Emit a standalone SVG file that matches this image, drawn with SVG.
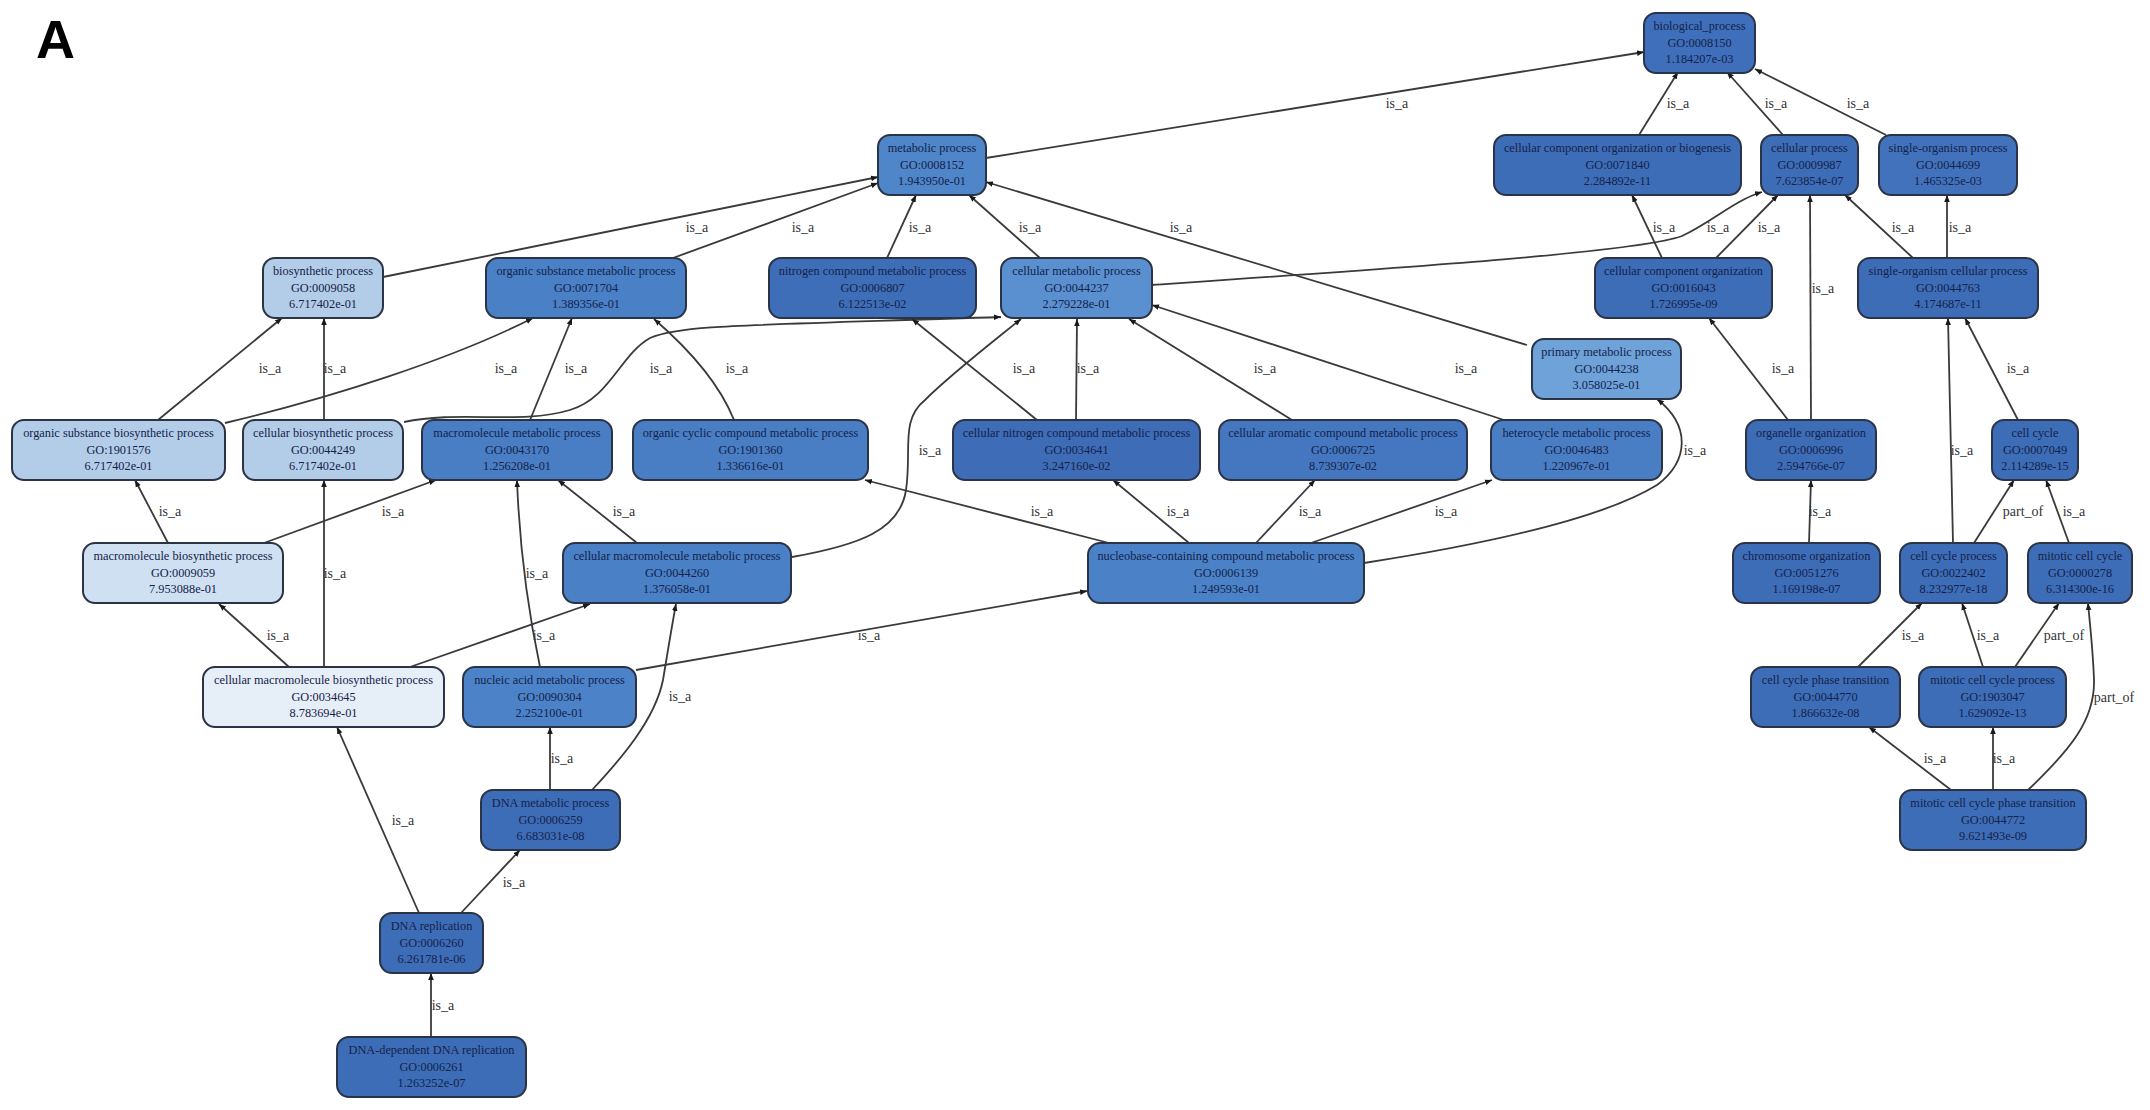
<svg xmlns="http://www.w3.org/2000/svg" width="2150" height="1110" viewBox="0 0 2150 1110">
<defs>
<marker id="arr" viewBox="0 0 10 10" refX="10" refY="5" markerWidth="7" markerHeight="7" markerUnits="userSpaceOnUse" orient="auto"><path d="M0,1 L10,5 L0,9 z" fill="#1a1a1a"/></marker>
<style>
.n rect{stroke:#2b3346;stroke-width:2}
.n text{font-family:"Liberation Serif","Times New Roman",serif;font-size:12.3px;fill:#14224a;text-anchor:middle}
.d{fill:#3e6db7}
.e path{fill:none;stroke:#3a3a3a;stroke-width:1.8;marker-end:url(#arr)}
.e text{font-family:"Liberation Serif","Times New Roman",serif;font-size:14px;fill:#333;text-anchor:middle}
.title{font-family:"Liberation Sans",Arial,sans-serif;font-weight:bold;font-size:54px;fill:#000}
</style>
</defs>
<rect width="2150" height="1110" fill="#fff"/>
<text class="title" x="36" y="58">A</text>

<g id="connectors" class="e">
<path d="M986,158 L1644,52"/><text x="1397" y="108">is_a</text>
<path d="M1639,135 L1678,72"/><text x="1678" y="108">is_a</text>
<path d="M1783,135 L1727,72"/><text x="1776" y="108">is_a</text>
<path d="M1886,135 L1755,69"/><text x="1858" y="108">is_a</text>
<path d="M383,277 L878,177"/><text x="697" y="232">is_a</text>
<path d="M673,258 L878,183"/><text x="803" y="232">is_a</text>
<path d="M887,258 L916,195"/><text x="920" y="232">is_a</text>
<path d="M1040,258 L969,195"/><text x="1030" y="232">is_a</text>
<path d="M1527,345 L986,182"/><text x="1181" y="232">is_a</text>
<path d="M1152,285 C1400,268 1640,252 1682,236 C1712,222 1735,200 1762,192"/><text x="1718" y="232">is_a</text>
<path d="M1662,258 L1632,195"/><text x="1664" y="232">is_a</text>
<path d="M1716,258 L1778,195"/><text x="1769" y="232">is_a</text>
<path d="M1913,258 L1845,195"/><text x="1903" y="232">is_a</text>
<path d="M1947,258 L1947,195"/><text x="1960" y="232">is_a</text>
<path d="M1811,420 L1810,195"/><text x="1823" y="293">is_a</text>
<path d="M1788,420 L1709,318"/><text x="1783" y="373">is_a</text>
<path d="M1953,543 L1948,318"/><text x="1962" y="455">is_a</text>
<path d="M2018,420 L1965,318"/><text x="2018" y="373">is_a</text>
<path d="M1809,543 L1811,480"/><text x="1820" y="516">is_a</text>
<path d="M1974,543 L2014,480"/><text x="2023" y="516">part_of</text>
<path d="M2069,543 L2046,480"/><text x="2074" y="516">is_a</text>
<path d="M1858,667 L1922,603"/><text x="1913" y="640">is_a</text>
<path d="M1983,667 L1962,603"/><text x="1988" y="640">is_a</text>
<path d="M2015,667 L2059,603"/><text x="2064" y="640">part_of</text>
<path d="M2028,790 C2070,750 2095,720 2094,680 C2093,650 2090,625 2088,603"/><text x="2114" y="702">part_of</text>
<path d="M1951,790 L1869,727"/><text x="1935" y="763">is_a</text>
<path d="M1993,790 L1993,727"/><text x="2004" y="763">is_a</text>
<path d="M158,420 L282,318"/><text x="270" y="373">is_a</text>
<path d="M324,420 L324,318"/><text x="335" y="373">is_a</text>
<path d="M225,423 C330,398 450,360 533,318"/><text x="506" y="373">is_a</text>
<path d="M530,420 L572,318"/><text x="576" y="373">is_a</text>
<path d="M404,422 C460,410 520,425 570,410 C610,398 620,355 650,338 C680,325 730,326 1001,317"/><text x="661" y="373">is_a</text>
<path d="M734,420 C720,385 690,350 654,319"/><text x="737" y="373">is_a</text>
<path d="M168,543 L135,480"/><text x="170" y="516">is_a</text>
<path d="M264,543 L436,480"/><text x="393" y="516">is_a</text>
<path d="M289,667 L219,604"/><text x="278" y="640">is_a</text>
<path d="M324,667 L324,480"/><text x="335" y="578">is_a</text>
<path d="M410,667 L590,604"/><text x="544" y="640">is_a</text>
<path d="M637,543 L558,480"/><text x="624" y="516">is_a</text>
<path d="M540,667 C530,620 520,560 517,480"/><text x="537" y="578">is_a</text>
<path d="M792,557 C860,545 900,530 906,490 C912,450 900,420 925,400 C950,375 995,340 1021,319"/><text x="930" y="455">is_a</text>
<path d="M636,670 L1087,591"/><text x="869" y="640">is_a</text>
<path d="M1037,420 L912,319"/><text x="1024" y="373">is_a</text>
<path d="M1076,420 L1077,319"/><text x="1088" y="373">is_a</text>
<path d="M1292,420 L1129,319"/><text x="1265" y="373">is_a</text>
<path d="M1504,420 L1152,305"/><text x="1466" y="373">is_a</text>
<path d="M1109,543 L865,480"/><text x="1042" y="516">is_a</text>
<path d="M1189,543 L1113,480"/><text x="1178" y="516">is_a</text>
<path d="M1256,543 L1315,480"/><text x="1310" y="516">is_a</text>
<path d="M1311,543 L1492,480"/><text x="1446" y="516">is_a</text>
<path d="M1364,563 C1480,545 1600,520 1657,485 C1690,460 1690,425 1657,399"/><text x="1695" y="455">is_a</text>
<path d="M550,790 L550,727"/><text x="562" y="763">is_a</text>
<path d="M592,790 C620,760 655,720 663,680 C668,650 672,625 676,604"/><text x="680" y="701">is_a</text>
<path d="M419,913 L337,727"/><text x="403" y="825">is_a</text>
<path d="M461,913 L520,850"/><text x="514" y="887">is_a</text>
<path d="M431,1037 L431,973"/><text x="443" y="1010">is_a</text>
</g>

<g id="GO0008150" class="n"><rect x="1644" y="13" width="111" height="60" rx="12" fill="#3f6fba"/><text x="1699.5" y="30">biological_process</text><text x="1699.5" y="47">GO:0008150</text><text x="1699.5" y="63">1.184207e-03</text></g>
<g id="GO0008152" class="n"><rect x="878" y="135" width="108" height="60" rx="12" fill="#4f86c9"/><text x="932" y="152">metabolic process</text><text x="932" y="169">GO:0008152</text><text x="932" y="185">1.943950e-01</text></g>
<g id="GO0071840" class="n"><rect x="1494" y="135" width="247" height="60" rx="12" class="d"/><text x="1617.5" y="152">cellular component organization or biogenesis</text><text x="1617.5" y="169">GO:0071840</text><text x="1617.5" y="185">2.284892e-11</text></g>
<g id="GO0009987" class="n"><rect x="1761" y="135" width="97" height="60" rx="12" class="d"/><text x="1809.5" y="152">cellular process</text><text x="1809.5" y="169">GO:0009987</text><text x="1809.5" y="185">7.623854e-07</text></g>
<g id="GO0044699" class="n"><rect x="1879" y="135" width="138" height="60" rx="12" fill="#4272bc"/><text x="1948" y="152">single-organism process</text><text x="1948" y="169">GO:0044699</text><text x="1948" y="185">1.465325e-03</text></g>
<g id="GO0009058" class="n"><rect x="263" y="258" width="120" height="60" rx="12" fill="#b3cde8"/><text x="323" y="275">biosynthetic process</text><text x="323" y="292">GO:0009058</text><text x="323" y="308">6.717402e-01</text></g>
<g id="GO0071704" class="n"><rect x="486" y="258" width="200" height="60" rx="12" fill="#4a80c6"/><text x="586" y="275">organic substance metabolic process</text><text x="586" y="292">GO:0071704</text><text x="586" y="308">1.389356e-01</text></g>
<g id="GO0006807" class="n"><rect x="769" y="258" width="207" height="60" rx="12" fill="#3f6eb8"/><text x="872.5" y="275">nitrogen compound metabolic process</text><text x="872.5" y="292">GO:0006807</text><text x="872.5" y="308">6.122513e-02</text></g>
<g id="GO0044237" class="n"><rect x="1001" y="258" width="151" height="60" rx="12" fill="#5a90d0"/><text x="1076.5" y="275">cellular metabolic process</text><text x="1076.5" y="292">GO:0044237</text><text x="1076.5" y="308">2.279228e-01</text></g>
<g id="GO0016043" class="n"><rect x="1595" y="258" width="177" height="60" rx="12" class="d"/><text x="1683.5" y="275">cellular component organization</text><text x="1683.5" y="292">GO:0016043</text><text x="1683.5" y="308">1.726995e-09</text></g>
<g id="GO0044763" class="n"><rect x="1858" y="258" width="180" height="60" rx="12" class="d"/><text x="1948" y="275">single-organism cellular process</text><text x="1948" y="292">GO:0044763</text><text x="1948" y="308">4.174687e-11</text></g>
<g id="GO0044238" class="n"><rect x="1532" y="339" width="149" height="60" rx="12" fill="#6ea2d9"/><text x="1606.5" y="356">primary metabolic process</text><text x="1606.5" y="373">GO:0044238</text><text x="1606.5" y="389">3.058025e-01</text></g>
<g id="GO1901576" class="n"><rect x="12" y="420" width="213" height="60" rx="12" fill="#b3cde8"/><text x="118.5" y="437">organic substance biosynthetic process</text><text x="118.5" y="454">GO:1901576</text><text x="118.5" y="470">6.717402e-01</text></g>
<g id="GO0044249" class="n"><rect x="243" y="420" width="160" height="60" rx="12" fill="#b3cde8"/><text x="323" y="437">cellular biosynthetic process</text><text x="323" y="454">GO:0044249</text><text x="323" y="470">6.717402e-01</text></g>
<g id="GO0043170" class="n"><rect x="422" y="420" width="190" height="60" rx="12" fill="#4a7ec4"/><text x="517" y="437">macromolecule metabolic process</text><text x="517" y="454">GO:0043170</text><text x="517" y="470">1.256208e-01</text></g>
<g id="GO1901360" class="n"><rect x="633" y="420" width="235" height="60" rx="12" fill="#4a7ec4"/><text x="750.5" y="437">organic cyclic compound metabolic process</text><text x="750.5" y="454">GO:1901360</text><text x="750.5" y="470">1.336616e-01</text></g>
<g id="GO0034641" class="n"><rect x="953" y="420" width="247" height="60" rx="12" fill="#3e6cb6"/><text x="1076.5" y="437">cellular nitrogen compound metabolic process</text><text x="1076.5" y="454">GO:0034641</text><text x="1076.5" y="470">3.247160e-02</text></g>
<g id="GO0006725" class="n"><rect x="1219" y="420" width="248" height="60" rx="12" fill="#4577c0"/><text x="1343" y="437">cellular aromatic compound metabolic process</text><text x="1343" y="454">GO:0006725</text><text x="1343" y="470">8.739307e-02</text></g>
<g id="GO0046483" class="n"><rect x="1491" y="420" width="171" height="60" rx="12" fill="#4a7ec4"/><text x="1576.5" y="437">heterocycle metabolic process</text><text x="1576.5" y="454">GO:0046483</text><text x="1576.5" y="470">1.220967e-01</text></g>
<g id="GO0006996" class="n"><rect x="1746" y="420" width="130" height="60" rx="12" class="d"/><text x="1811" y="437">organelle organization</text><text x="1811" y="454">GO:0006996</text><text x="1811" y="470">2.594766e-07</text></g>
<g id="GO0007049" class="n"><rect x="1992" y="420" width="86" height="60" rx="12" class="d"/><text x="2035" y="437">cell cycle</text><text x="2035" y="454">GO:0007049</text><text x="2035" y="470">2.114289e-15</text></g>
<g id="GO0009059" class="n"><rect x="83" y="543" width="200" height="60" rx="12" fill="#cfe0f2"/><text x="183" y="560">macromolecule biosynthetic process</text><text x="183" y="577">GO:0009059</text><text x="183" y="593">7.953088e-01</text></g>
<g id="GO0044260" class="n"><rect x="563" y="543" width="228" height="60" rx="12" fill="#4a80c6"/><text x="677" y="560">cellular macromolecule metabolic process</text><text x="677" y="577">GO:0044260</text><text x="677" y="593">1.376058e-01</text></g>
<g id="GO0006139" class="n"><rect x="1088" y="543" width="276" height="60" rx="12" fill="#4b82c7"/><text x="1226" y="560">nucleobase-containing compound metabolic process</text><text x="1226" y="577">GO:0006139</text><text x="1226" y="593">1.249593e-01</text></g>
<g id="GO0051276" class="n"><rect x="1733" y="543" width="147" height="60" rx="12" class="d"/><text x="1806.5" y="560">chromosome organization</text><text x="1806.5" y="577">GO:0051276</text><text x="1806.5" y="593">1.169198e-07</text></g>
<g id="GO0022402" class="n"><rect x="1900" y="543" width="107" height="60" rx="12" class="d"/><text x="1953.5" y="560">cell cycle process</text><text x="1953.5" y="577">GO:0022402</text><text x="1953.5" y="593">8.232977e-18</text></g>
<g id="GO0000278" class="n"><rect x="2028" y="543" width="104" height="60" rx="12" class="d"/><text x="2080" y="560">mitotic cell cycle</text><text x="2080" y="577">GO:0000278</text><text x="2080" y="593">6.314300e-16</text></g>
<g id="GO0034645" class="n"><rect x="203" y="667" width="241" height="60" rx="12" fill="#e6eef8"/><text x="323.5" y="684">cellular macromolecule biosynthetic process</text><text x="323.5" y="701">GO:0034645</text><text x="323.5" y="717">8.783694e-01</text></g>
<g id="GO0090304" class="n"><rect x="463" y="667" width="173" height="60" rx="12" fill="#4c83c8"/><text x="549.5" y="684">nucleic acid metabolic process</text><text x="549.5" y="701">GO:0090304</text><text x="549.5" y="717">2.252100e-01</text></g>
<g id="GO0044770" class="n"><rect x="1751" y="667" width="149" height="60" rx="12" class="d"/><text x="1825.5" y="684">cell cycle phase transition</text><text x="1825.5" y="701">GO:0044770</text><text x="1825.5" y="717">1.866632e-08</text></g>
<g id="GO1903047" class="n"><rect x="1919" y="667" width="147" height="60" rx="12" class="d"/><text x="1992.5" y="684">mitotic cell cycle process</text><text x="1992.5" y="701">GO:1903047</text><text x="1992.5" y="717">1.629092e-13</text></g>
<g id="GO0006259" class="n"><rect x="481" y="790" width="139" height="60" rx="12" class="d"/><text x="550.5" y="807">DNA metabolic process</text><text x="550.5" y="824">GO:0006259</text><text x="550.5" y="840">6.683031e-08</text></g>
<g id="GO0044772" class="n"><rect x="1900" y="790" width="186" height="60" rx="12" class="d"/><text x="1993" y="807">mitotic cell cycle phase transition</text><text x="1993" y="824">GO:0044772</text><text x="1993" y="840">9.621493e-09</text></g>
<g id="GO0006260" class="n"><rect x="380" y="913" width="103" height="60" rx="12" class="d"/><text x="431.5" y="930">DNA replication</text><text x="431.5" y="947">GO:0006260</text><text x="431.5" y="963">6.261781e-06</text></g>
<g id="GO0006261" class="n"><rect x="337" y="1037" width="189" height="60" rx="12" class="d"/><text x="431.5" y="1054">DNA-dependent DNA replication</text><text x="431.5" y="1071">GO:0006261</text><text x="431.5" y="1087">1.263252e-07</text></g>
</svg>
